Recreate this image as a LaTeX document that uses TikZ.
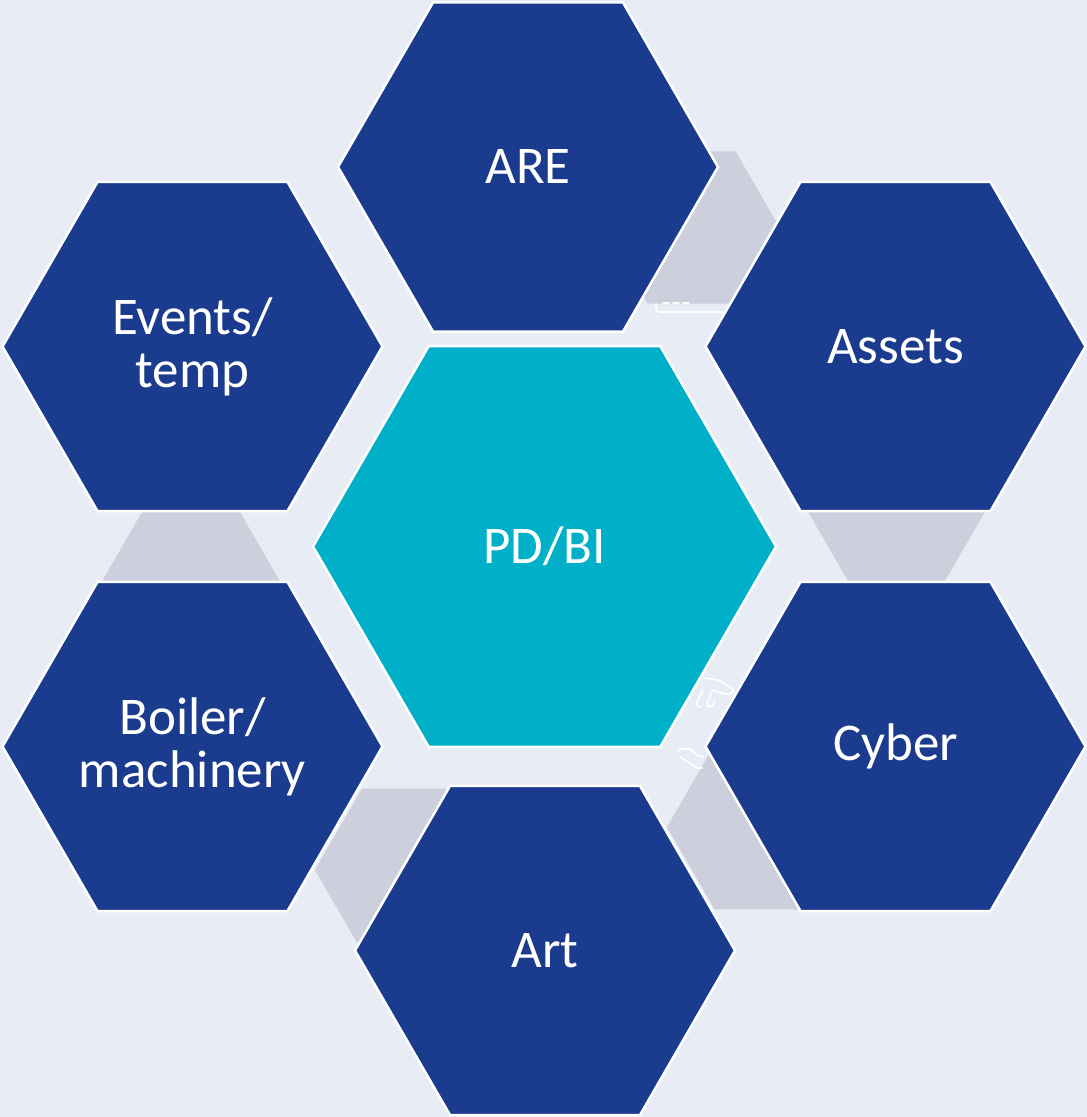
\documentclass[tikz,border=0pt]{standalone}
\usepackage{fontspec}
\setmainfont{Carlito}
\definecolor{bgcol}{HTML}{E8ECF5}
\definecolor{hexblue}{HTML}{1B3C8E}
\definecolor{hexteal}{HTML}{00B0C8}
\definecolor{linkgray}{HTML}{CCCFDC}
\tikzset{
  hexpath/.style 2 args={insert path={
    ([shift={(#1)}]0:#2) -- ([shift={(#1)}]60:#2) -- ([shift={(#1)}]120:#2) --
    ([shift={(#1)}]180:#2) -- ([shift={(#1)}]240:#2) -- ([shift={(#1)}]300:#2) -- cycle}},
  outerhex/.style={fill=hexblue, draw=white, line width=2.5pt, line join=miter},
  centerhex/.style={fill=hexteal, draw=white, line width=2.5pt, line join=miter},
  linkhex/.style={fill=linkgray},
  lbl/.style={text=white, align=center, font=\fontsize{53}{53}\selectfont, inner sep=0pt},
  artline/.style={draw=white, line width=1.6pt, line cap=round, line join=round}
}
\begin{document}
\begin{tikzpicture}[x=1pt,y=1pt]
\useasboundingbox (0,0) rectangle (1087,1117);
\fill[bgcol] (0,0) rectangle (1087,1117);

% centres
\coordinate (c-are) at (528,950);
\coordinate (c-assets) at (895.5,770.5);
\coordinate (c-cyber) at (895.5,370.5);
\coordinate (c-art) at (545,166.5);
\coordinate (c-boiler) at (192.5,370.5);
\coordinate (c-events) at (192.5,770.5);
\coordinate (c-pd) at (544.5,570.5);
\coordinate (g1) at (691.5,889.5);
\coordinate (g2) at (896.5,620);
\coordinate (g3) at (762,290);
\coordinate (g4) at (409,247);
\coordinate (g5) at (191,520);

% grey link hexagons
\fill[linkhex, hexpath={g1}{88}];
\fill[linkhex, hexpath={g2}{97}];
\fill[linkhex, hexpath={g3}{95}];
\fill[linkhex, hexpath={g4}{94}];
\fill[linkhex, hexpath={g5}{98}];

% faint white outlines
\draw[artline, rounded corners=3pt] (728,805) -- (656,805) -- (656,813);
\draw[artline] (663,814) -- (669,814) (673,814) -- (679,814) (683,814) -- (689,814);
\draw[artline] (706,439) -- (718,437) -- (732,429) .. controls (736,425) and (730,422) .. (724,423) -- (712,427);
\draw[artline] (703,427) -- (697,415) .. controls (696,411) and (699,409) .. (701,411);
\draw[artline] (712,425) -- (707,414) .. controls (707,409) and (712,409) .. (715,416);
\draw[artline] (677,365) -- (680,368) -- (690,368) -- (698,361) -- (703,360);
\draw[artline] (680,360) -- (697,349) -- (702,349);

% main hexagons
\path[outerhex, hexpath={c-are}{190}];
\path[outerhex, hexpath={c-assets}{190}];
\path[outerhex, hexpath={c-cyber}{190}];
\path[outerhex, hexpath={c-art}{190}];
\path[outerhex, hexpath={c-boiler}{190}];
\path[outerhex, hexpath={c-events}{190}];
\path[centerhex, hexpath={c-pd}{231.5}];

% labels
\node[lbl] (are) at (c-are) {ARE};
\node[lbl] (assets) at (c-assets) {Assets};
\node[lbl] (cyber) at (c-cyber) {Cyber};
\node[lbl] (art) at (c-art) {Art};
\node[lbl] (boiler) at (c-boiler) {Boiler/\\machinery};
\node[lbl] (events) at (c-events) {Events/\\temp};
\node[lbl] (pd) at (c-pd) {PD/BI};
\end{tikzpicture}
\end{document}
